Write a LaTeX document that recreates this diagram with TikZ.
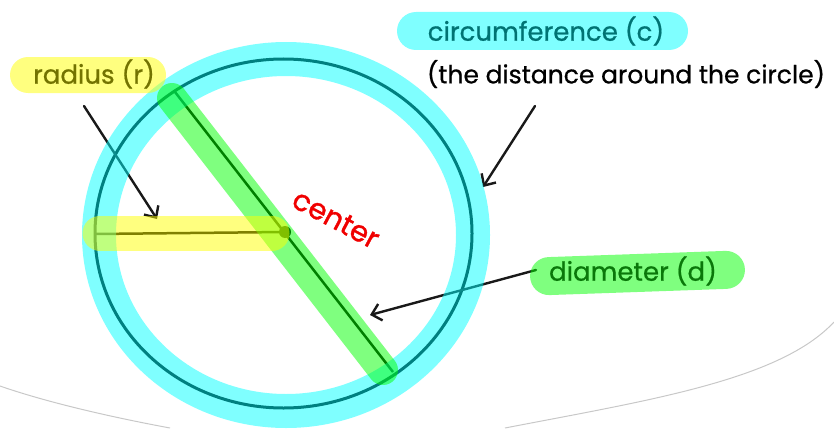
\documentclass[tikz,border=0pt]{standalone}
\usepackage{fontspec}
\setmainfont{Poppins}
\newfontfamily\comicfont{Poppins}[FakeBold=0.7]
\newfontfamily\handfont{Poppins}[FakeBold=1.2]
\usetikzlibrary{arrows.meta}
\definecolor{hcyan}{RGB}{0,255,255}
\definecolor{hgreen}{RGB}{0,255,0}
\definecolor{hyellow}{RGB}{255,255,0}
\definecolor{tolive}{RGB}{115,115,0}
\definecolor{tteal}{RGB}{0,115,115}
\definecolor{tgreen}{RGB}{10,120,10}
\definecolor{penred}{RGB}{240,0,0}
\definecolor{ink}{RGB}{25,25,25}
\definecolor{faint}{RGB}{200,200,200}
\begin{document}
\begin{tikzpicture}[x=1pt,y=-1pt,
  hl/.style={opacity=0.5,line cap=round},
  pen/.style={line width=3pt,black},
  arr/.style={draw=ink,line width=2.4pt,line cap=round,-{Straight Barb[length=9pt,width=17pt,line width=2.4pt]}},
  lbl/.style={font=\comicfont\fontsize{26}{30}\selectfont,inner sep=0pt},
  band/.style={opacity=0.5,rounded corners=18pt}]
\useasboundingbox (0,0) rectangle (834,428);
% faint background edge
\draw[faint,line width=1pt] (0,386) .. controls (40,400) and (100,415) .. (170,428);
\draw[faint,line width=1pt] (505,428) .. controls (650,400) and (780,380) .. (834,322);
% ink lines
\draw[pen] (283.5,233.5) ellipse [x radius=188.5, y radius=174.5];
\coordinate (dA) at (175,92);
\coordinate (dB) at (393,372);
\coordinate (rA) at (95,234);
\coordinate (ctr) at (285,232);
\draw[pen,line width=2.5pt] (dA) -- (dB);
\draw[pen,line width=2.5pt] (rA) -- (ctr);
\fill (ctr) circle (6pt);
% arrows
\coordinate (rtip) at (157,219);
\coordinate (rstart) at (84,106);
\coordinate (ctip) at (483,187);
\coordinate (cstart) at (535,106);
\coordinate (dtip) at (370,315);
\coordinate (dstart) at (536,270);
\draw[arr] (rstart) -- (rtip);
\draw[arr] (cstart) -- (ctip);
\draw[arr] (dstart) -- (dtip);
% highlights
\draw[hl,hcyan,line width=34pt] (286,235) ellipse [x radius=187, y radius=176];
\draw[hl,hgreen,line width=30pt] (172,98) -- (383,370);
\draw[hl,hyellow,line width=35pt] (100,233) -- (272,233);
% label bands
\fill[band,hyellow] (10,57) rectangle (166,93);
\fill[band,hcyan,rounded corners=19pt] (397,12) rectangle (688,50);
\fill[band,hgreen,rounded corners=19pt,rotate around={2:(637,273)}] (530,254) rectangle (745,292);
% texts
\node[lbl,text=tolive] (radius) at (94,74) {radius (r)};
\node[lbl,text=tteal] (circ) at (546,31) {circumference (c)};
\node[lbl,text=black,font=\comicfont\fontsize{25}{30}\selectfont] (dist) at (626,74) {(the distance around the circle)};
\node[lbl,text=tgreen] (diam) at (633,271) {diameter (d)};
\node[font=\handfont\fontsize{29}{32}\selectfont,text=penred,rotate=-28,inner sep=0pt] (center) at (336,219) {center};
\end{tikzpicture}
\end{document}
